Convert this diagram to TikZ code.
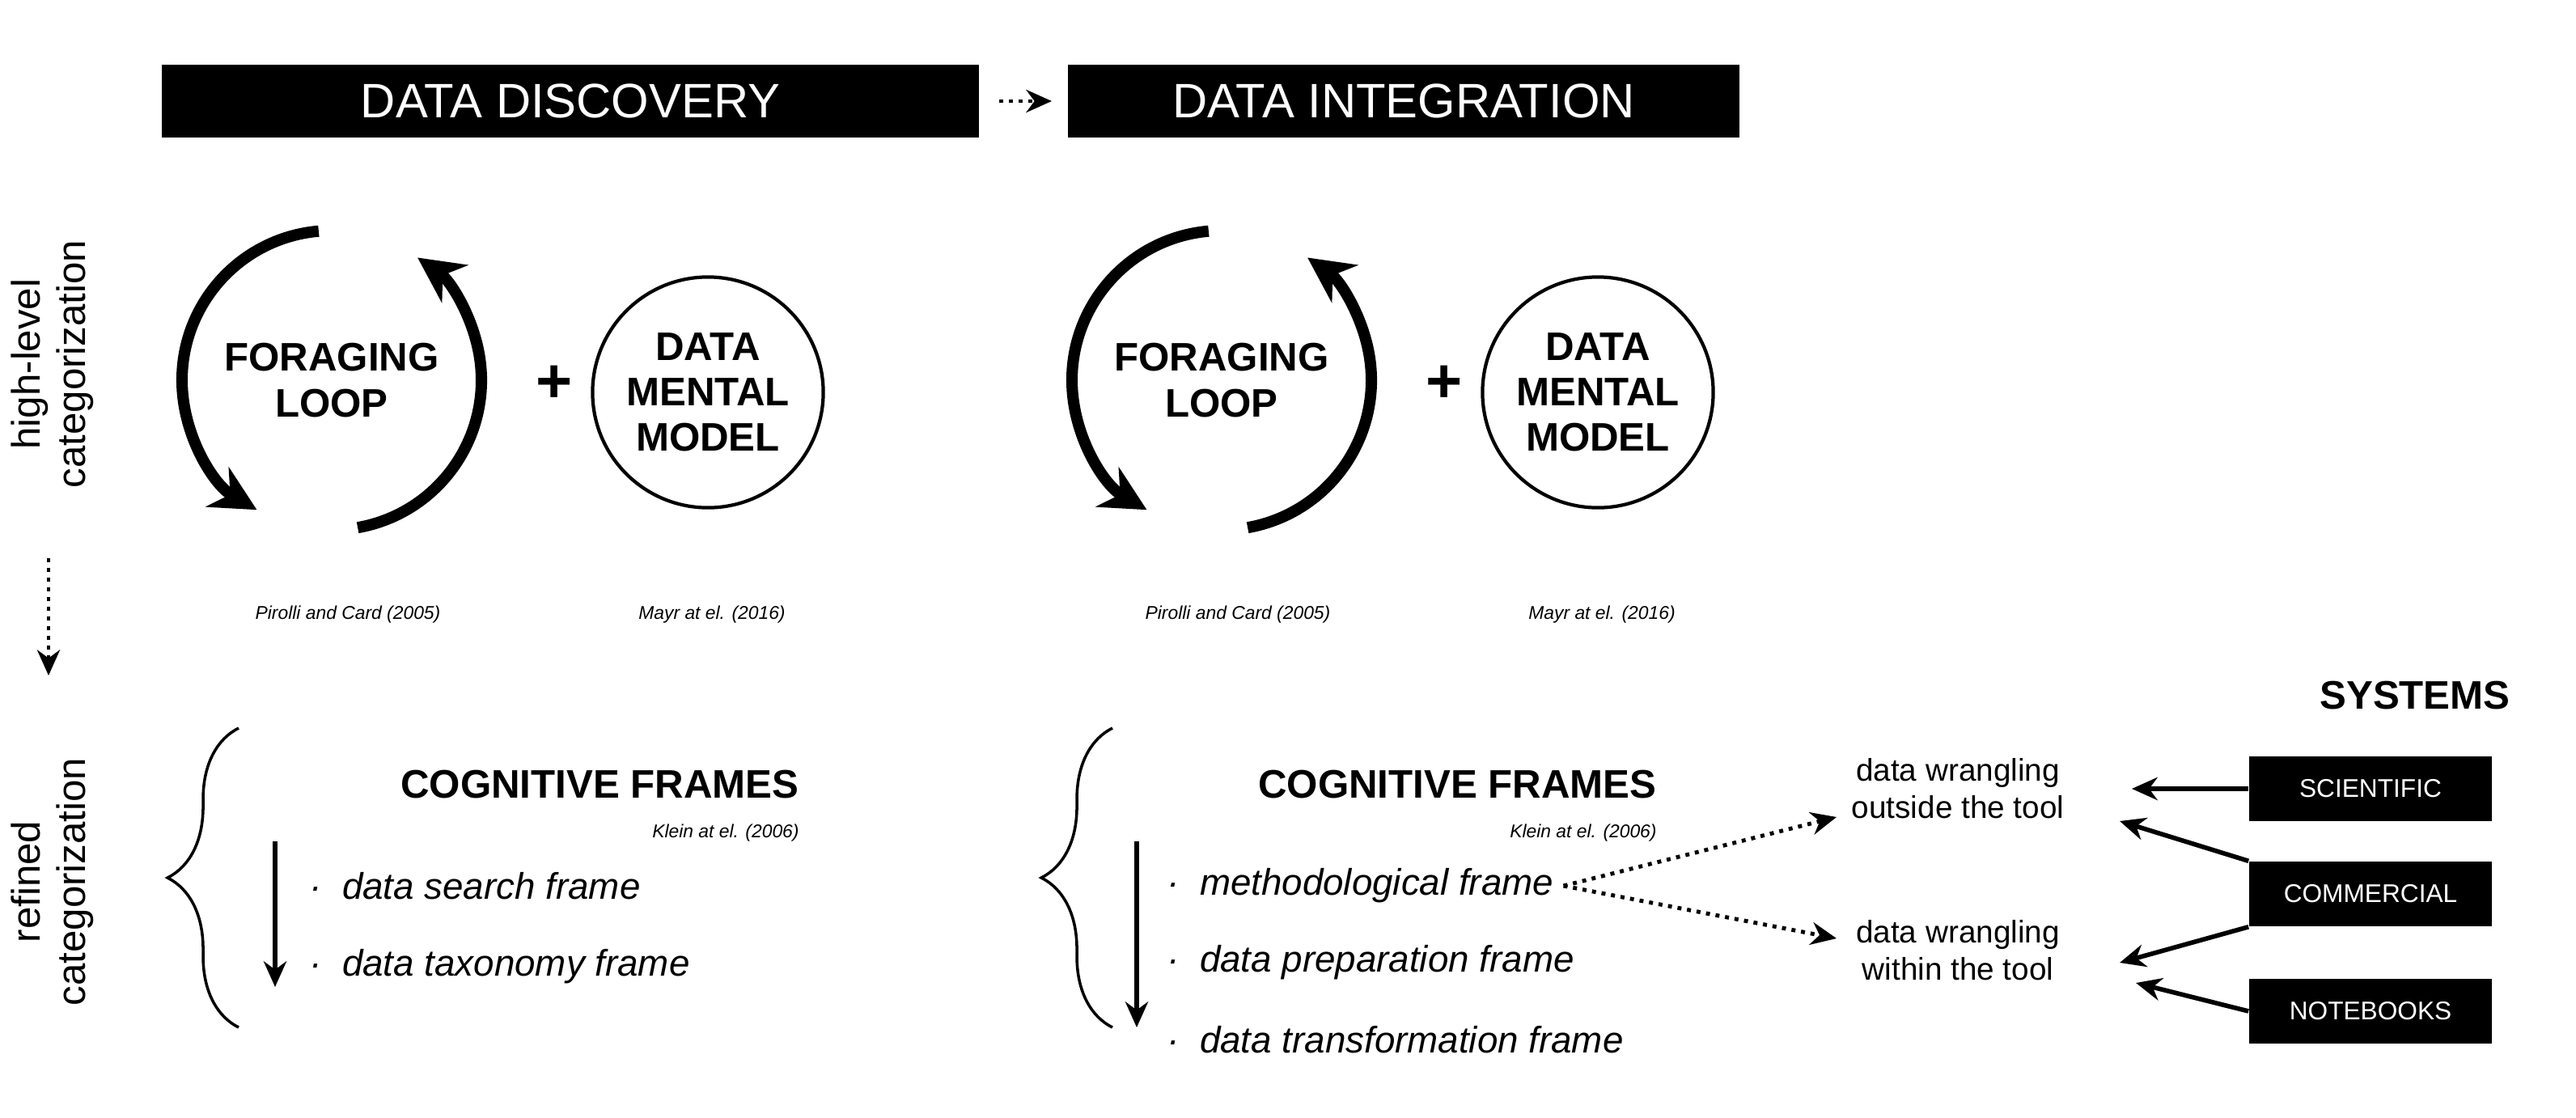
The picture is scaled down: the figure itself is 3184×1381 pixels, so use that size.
\documentclass[tikz,border=0pt]{standalone}
\usepackage{fontspec}
\setmainfont{Liberation Sans}
\usetikzlibrary{arrows.meta,decorations.pathreplacing}
\begin{document}
\begin{tikzpicture}[x=0.01cm,y=-0.01cm,
  hbox/.style={fill=black,text=white,inner sep=0,font=\fontsize{17}{20}\selectfont},
  sbox/.style={fill=black,text=white,minimum width=3cm,minimum height=0.8cm,inner sep=0,font=\fontsize{9}{11}\selectfont},
  loop/.style={line width=4pt,-{Stealth[length=16pt,width=16pt]}},
  head/.style={font=\bfseries\fontsize{14}{16}\selectfont,align=center},
  cite/.style={font=\itshape\fontsize{6.5}{8}\selectfont},
  item/.style={font=\itshape\fontsize{13}{15}\selectfont,anchor=west},
  arr/.style={line width=1.6pt,-{Stealth[length=9pt,width=8pt]}},
  darr/.style={line width=1.4pt,dotted,-{Stealth[length=9pt,width=8pt]}}]
\useasboundingbox (0,0) rectangle (3184,1381);
\node[hbox,minimum width=10.1cm,minimum height=0.9cm] (dd) at (705,125) {DATA DISCOVERY};
\node[hbox,minimum width=8.3cm,minimum height=0.9cm] (di) at (1735,125) {DATA INTEGRATION};
\coordinate (a1) at (1235,125);
\coordinate (a2) at (1300,125);
\draw[darr] (a1) -- (a2);
\node[rotate=90,font=\fontsize{14}{16}\selectfont,align=center] (hl) at (65,450) {high-level\\categorization};
\node[rotate=90,font=\fontsize{14}{16}\selectfont,align=center] (rc) at (65,1090) {refined\\categorization};
\coordinate (v1) at (60,690);
\coordinate (v2) at (60,835);
\draw[darr] (v1) -- (v2);
\foreach \s/\n in {0/a,1100/b}{
 \begin{scope}[xshift=\s*0.01cm]
 \node[head] (fl\n) at (410,470) {FORAGING\\LOOP};
 \draw[loop] (410,470) ++(265:185) arc[start angle=265,end angle=120,radius=185];
 \draw[loop] (410,470) ++(80:185) arc[start angle=80,end angle=-55,radius=185];
 \node[font=\bfseries\fontsize{22}{22}\selectfont] (pl\n) at (685,475) {+};
 \node[circle,draw,line width=1.2pt,minimum size=2.85cm,head] (mm\n) at (875,485) {DATA\\MENTAL\\MODEL};
 \node[cite] (pc\n) at (430,760) {Pirolli and Card (2005)};
 \node[cite] (my\n) at (880,760) {Mayr at el. (2016)};
 \end{scope}}
% cognitive frames left
\draw[line width=1pt,decorate,decoration={brace,amplitude=25pt}] (295,1270) -- (295,900);
\node[head,anchor=east] (cf1) at (1000,970) {COGNITIVE FRAMES};
\node[cite,anchor=east] (k1) at (1000,1030) {Klein at el. (2006)};
\draw[arr] (340,1040) coordinate (d1) -- (340,1220) coordinate (d2);
\node[item] (i1) at (370,1095) {\textperiodcentered\ \ data search frame};
\node[item] (i2) at (370,1195) {\textperiodcentered\ \ data taxonomy frame};
% right
\draw[line width=1pt,decorate,decoration={brace,amplitude=25pt}] (1375,1270) -- (1375,900);
\node[head,anchor=east] (cf2) at (2060,970) {COGNITIVE FRAMES};
\node[cite,anchor=east] (k2) at (2060,1030) {Klein at el. (2006)};
\draw[arr] (1405,1040) coordinate (d3) -- (1405,1270) coordinate (d4);
\node[item] (j1) at (1430,1095) {\textperiodcentered\ \ methodological frame};
\node[item] (j2) at (1430,1190) {\textperiodcentered\ \ data preparation frame};
\node[item] (j3) at (1430,1285) {\textperiodcentered\ \ data transformation frame};
\node[font=\fontsize{11}{13}\selectfont,align=center] (wo) at (2420,975) {data wrangling\\outside the tool};
\node[font=\fontsize{11}{13}\selectfont,align=center] (wi) at (2420,1175) {data wrangling\\within the tool};
\draw[darr] (j1.east) -- (2270,1010);
\draw[darr] (j1.east) -- (2270,1160);
\node[font=\bfseries\fontsize{14}{16}\selectfont] (sy) at (2985,860) {SYSTEMS};
\node[sbox] (sc) at (2930,975) {SCIENTIFIC};
\node[sbox] (co) at (2930,1105) {COMMERCIAL};
\node[sbox] (nb) at (2930,1250) {NOTEBOOKS};
\draw[arr] (sc.west) -- (2635,975);
\draw[arr] (co.north west) -- (2620,1015);
\draw[arr] (co.south west) -- (2620,1190);
\draw[arr] (nb.west) -- (2640,1215);
\end{tikzpicture}
\end{document}
